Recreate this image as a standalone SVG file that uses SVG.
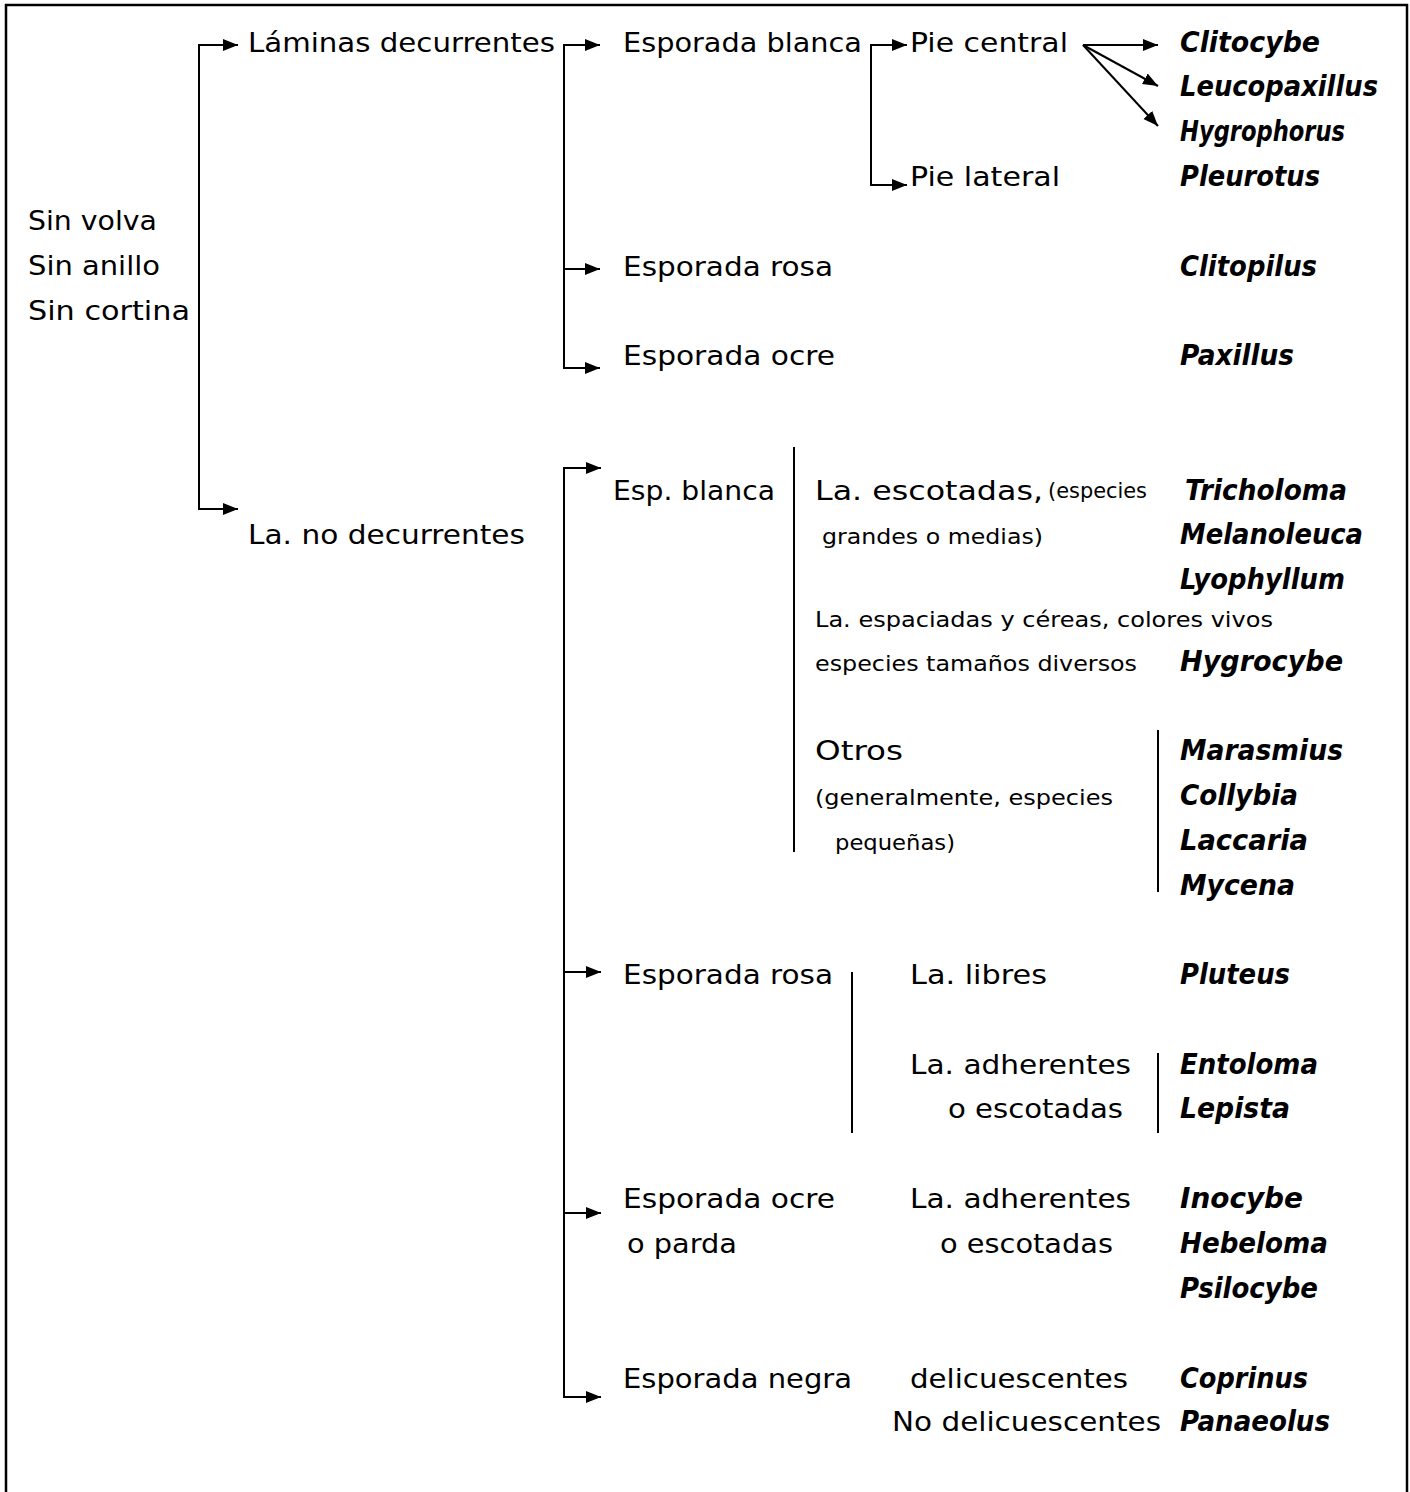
<svg xmlns="http://www.w3.org/2000/svg" width="1410" height="1492" viewBox="0 0 1410 1492">
<style>
text{fill:#000;font-family:"DejaVu Sans","Liberation Sans",sans-serif}
.t{font-size:26.5px}
.s{font-size:21px}
.g{font-size:27.5px;font-weight:bold;font-style:italic}
.c path{fill:none;stroke:#000;stroke-width:2}
.sep{stroke:#000;stroke-width:2}
</style>
<defs>
<marker id="ah" markerUnits="userSpaceOnUse" markerWidth="16" markerHeight="14" refX="15" refY="7" orient="auto">
<path d="M0,1 L15,7 L0,13 z" fill="#000"/>
</marker>
</defs>
<rect width="1410" height="1492" fill="#fff"/>
<rect x="6" y="5" width="1401" height="1500" fill="none" stroke="#000" stroke-width="2.5"/>
<g class="c" id="connectors">
<path d="M199,277 V45 H238" marker-end="url(#ah)"/>
<path d="M199,277 V509 H238" marker-end="url(#ah)"/>
<path d="M564,200 V45 H600" marker-end="url(#ah)"/>
<path d="M564,200 V269 H600" marker-end="url(#ah)"/>
<path d="M564,200 V368 H600" marker-end="url(#ah)"/>
<path d="M871,110 V45 H907" marker-end="url(#ah)"/>
<path d="M871,110 V185 H907" marker-end="url(#ah)"/>
<path d="M1083,45 H1158" marker-end="url(#ah)"/>
<path d="M1083,45 L1158,86" marker-end="url(#ah)"/>
<path d="M1083,45 L1158,126" marker-end="url(#ah)"/>
<path d="M564,900 V468 H601" marker-end="url(#ah)"/>
<path d="M564,900 V972 H601" marker-end="url(#ah)"/>
<path d="M564,900 V1213 H601" marker-end="url(#ah)"/>
<path d="M564,900 V1397 H601" marker-end="url(#ah)"/>
<line class="sep" x1="794" y1="447" x2="794" y2="852"/>
<line class="sep" x1="1158" y1="730" x2="1158" y2="892"/>
<line class="sep" x1="852" y1="972" x2="852" y2="1133"/>
<line class="sep" x1="1158" y1="1053" x2="1158" y2="1133"/>
</g>
<g id="root"><text class="t" x="28" y="230" textLength="129" lengthAdjust="spacingAndGlyphs">Sin volva</text>
<text class="t" x="28" y="275" textLength="132" lengthAdjust="spacingAndGlyphs">Sin anillo</text>
<text class="t" x="28" y="320" textLength="162" lengthAdjust="spacingAndGlyphs">Sin cortina</text></g>
<g id="n-laminas-dec"><text class="t" x="248" y="52" textLength="307" lengthAdjust="spacingAndGlyphs">Láminas decurrentes</text></g>
<g id="n-la-no-dec"><text class="t" x="248" y="544" textLength="277" lengthAdjust="spacingAndGlyphs">La. no decurrentes</text></g>
<g id="n-esp-blanca-1"><text class="t" x="623" y="52" textLength="239" lengthAdjust="spacingAndGlyphs">Esporada blanca</text></g>
<g id="n-pie-central"><text class="t" x="910" y="52" textLength="158" lengthAdjust="spacingAndGlyphs">Pie central</text></g>
<g id="n-pie-lateral"><text class="t" x="910" y="186" textLength="150" lengthAdjust="spacingAndGlyphs">Pie lateral</text></g>
<g id="n-esp-rosa-1"><text class="t" x="623" y="276" textLength="210" lengthAdjust="spacingAndGlyphs">Esporada rosa</text></g>
<g id="n-esp-ocre-1"><text class="t" x="623" y="365" textLength="212" lengthAdjust="spacingAndGlyphs">Esporada ocre</text></g>
<g id="n-esp-blanca-2"><text class="t" x="613" y="500" textLength="162" lengthAdjust="spacingAndGlyphs">Esp. blanca</text></g>
<g id="n-escotadas"><text class="t" x="815" y="500" textLength="228" lengthAdjust="spacingAndGlyphs">La. escotadas,</text>
<text class="s" x="1048" y="498" textLength="99" lengthAdjust="spacingAndGlyphs">(especies</text>
<text class="s" x="822" y="544" textLength="221" lengthAdjust="spacingAndGlyphs">grandes o medias)</text></g>
<g id="n-espaciadas"><text class="s" x="815" y="627" textLength="458" lengthAdjust="spacingAndGlyphs">La. espaciadas y céreas, colores vivos</text>
<text class="s" x="815" y="671" textLength="322" lengthAdjust="spacingAndGlyphs">especies tamaños diversos</text></g>
<g id="n-otros"><text class="t" x="815" y="760" textLength="88" lengthAdjust="spacingAndGlyphs">Otros</text>
<text class="s" x="815" y="805" textLength="298" lengthAdjust="spacingAndGlyphs">(generalmente, especies</text>
<text class="s" x="835" y="850" textLength="120" lengthAdjust="spacingAndGlyphs">pequeñas)</text></g>
<g id="n-esp-rosa-2"><text class="t" x="623" y="984" textLength="210" lengthAdjust="spacingAndGlyphs">Esporada rosa</text></g>
<g id="n-libres"><text class="t" x="910" y="984" textLength="137" lengthAdjust="spacingAndGlyphs">La. libres</text></g>
<g id="n-adherentes-1"><text class="t" x="910" y="1074" textLength="221" lengthAdjust="spacingAndGlyphs">La. adherentes</text>
<text class="t" x="948" y="1118" textLength="175" lengthAdjust="spacingAndGlyphs">o escotadas</text></g>
<g id="n-esp-ocre-2"><text class="t" x="623" y="1208" textLength="212" lengthAdjust="spacingAndGlyphs">Esporada ocre</text>
<text class="t" x="627" y="1253" textLength="110" lengthAdjust="spacingAndGlyphs">o parda</text></g>
<g id="n-adherentes-2"><text class="t" x="910" y="1208" textLength="221" lengthAdjust="spacingAndGlyphs">La. adherentes</text>
<text class="t" x="940" y="1253" textLength="173" lengthAdjust="spacingAndGlyphs">o escotadas</text></g>
<g id="n-esp-negra"><text class="t" x="623" y="1388" textLength="229" lengthAdjust="spacingAndGlyphs">Esporada negra</text></g>
<g id="n-delic"><text class="t" x="910" y="1388" textLength="218" lengthAdjust="spacingAndGlyphs">delicuescentes</text></g>
<g id="n-nodelic"><text class="t" x="892" y="1431" textLength="269" lengthAdjust="spacingAndGlyphs">No delicuescentes</text></g>
<g id="genera">
<text class="g" x="1180" y="52" textLength="140" lengthAdjust="spacingAndGlyphs">Clitocybe</text>
<text class="g" x="1180" y="96" textLength="198" lengthAdjust="spacingAndGlyphs">Leucopaxillus</text>
<text class="g" x="1180" y="141" textLength="165" lengthAdjust="spacingAndGlyphs">Hygrophorus</text>
<text class="g" x="1180" y="186" textLength="140" lengthAdjust="spacingAndGlyphs">Pleurotus</text>
<text class="g" x="1180" y="276" textLength="137" lengthAdjust="spacingAndGlyphs">Clitopilus</text>
<text class="g" x="1180" y="365" textLength="114" lengthAdjust="spacingAndGlyphs">Paxillus</text>
<text class="g" x="1185" y="500" textLength="162" lengthAdjust="spacingAndGlyphs">Tricholoma</text>
<text class="g" x="1180" y="544" textLength="183" lengthAdjust="spacingAndGlyphs">Melanoleuca</text>
<text class="g" x="1180" y="589" textLength="165" lengthAdjust="spacingAndGlyphs">Lyophyllum</text>
<text class="g" x="1180" y="671" textLength="163" lengthAdjust="spacingAndGlyphs">Hygrocybe</text>
<text class="g" x="1180" y="760" textLength="163" lengthAdjust="spacingAndGlyphs">Marasmius</text>
<text class="g" x="1180" y="805" textLength="118" lengthAdjust="spacingAndGlyphs">Collybia</text>
<text class="g" x="1180" y="850" textLength="128" lengthAdjust="spacingAndGlyphs">Laccaria</text>
<text class="g" x="1180" y="895" textLength="115" lengthAdjust="spacingAndGlyphs">Mycena</text>
<text class="g" x="1180" y="984" textLength="110" lengthAdjust="spacingAndGlyphs">Pluteus</text>
<text class="g" x="1180" y="1074" textLength="138" lengthAdjust="spacingAndGlyphs">Entoloma</text>
<text class="g" x="1180" y="1118" textLength="110" lengthAdjust="spacingAndGlyphs">Lepista</text>
<text class="g" x="1180" y="1208" textLength="123" lengthAdjust="spacingAndGlyphs">Inocybe</text>
<text class="g" x="1180" y="1253" textLength="148" lengthAdjust="spacingAndGlyphs">Hebeloma</text>
<text class="g" x="1180" y="1298" textLength="138" lengthAdjust="spacingAndGlyphs">Psilocybe</text>
<text class="g" x="1180" y="1388" textLength="128" lengthAdjust="spacingAndGlyphs">Coprinus</text>
<text class="g" x="1180" y="1431" textLength="150" lengthAdjust="spacingAndGlyphs">Panaeolus</text>
</g>
</svg>
